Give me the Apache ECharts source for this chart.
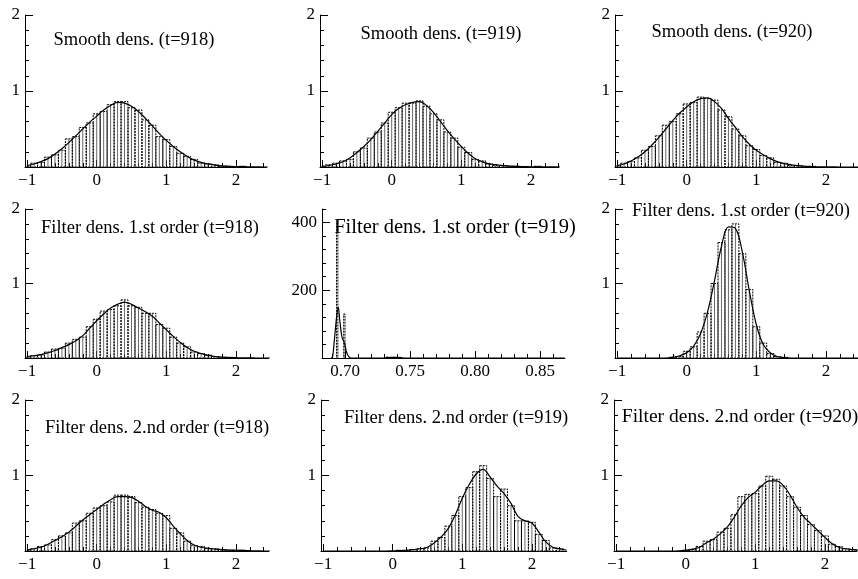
<!DOCTYPE html>
<html><head><meta charset="utf-8">
<script src="https://cdn.jsdelivr.net/npm/echarts@6/dist/echarts.min.js"></script>
<style>html,body{margin:0;padding:0;background:#fff}#c{width:858px;height:579px}</style>
</head><body><div id="c"></div>
<script>
// ---------- DATA ----------
const xs = [-1.0,-0.9,-0.8,-0.7,-0.6,-0.5,-0.4,-0.3,-0.2,-0.1,0.0,0.1,0.2,0.3,0.4,0.5,0.6,0.7,0.8,0.9,1.0,1.1,1.2,1.3,1.4,1.5,1.6,1.7,1.8,1.9,2.0,2.1,2.2,2.3,2.4,2.5];

const titles = [
  'Smooth dens. (t=918)', 'Smooth dens. (t=919)', 'Smooth dens. (t=920)',
  'Filter dens. 1.st order (t=918)', 'Filter dens. 1.st order (t=919)', 'Filter dens. 1.st order (t=920)',
  'Filter dens. 2.nd order (t=918)', 'Filter dens. 2.nd order (t=919)', 'Filter dens. 2.nd order (t=920)'
];

const curveSmooth918 = [0.02,0.04,0.07,0.11,0.17,0.24,0.32,0.41,0.50,0.59,0.67,0.75,0.81,0.85,0.84,0.80,0.73,0.64,0.54,0.44,0.35,0.27,0.20,0.14,0.09,0.06,0.04,0.025,0.015,0.01,0.006,0.004,0.002,0.001,0.0,0.0];
const barsSmooth918  = [0.01,0.05,0.06,0.13,0.16,0.22,0.37,0.40,0.52,0.58,0.70,0.73,0.82,0.86,0.86,0.78,0.75,0.62,0.55,0.40,0.36,0.27,0.18,0.14,0.10,0.05,0.04,0.03,0.01,0.01,0.0,0.01,0.0,0.0,0.0,0.0];

const curveSmooth919 = [0.01,0.02,0.04,0.07,0.12,0.19,0.27,0.36,0.47,0.58,0.69,0.77,0.82,0.85,0.86,0.81,0.72,0.60,0.48,0.37,0.27,0.18,0.11,0.07,0.04,0.03,0.02,0.012,0.008,0.005,0.003,0.002,0.001,0.001,0.0,0.0];
const barsSmooth919  = [0.01,0.03,0.05,0.08,0.10,0.20,0.25,0.38,0.46,0.58,0.72,0.78,0.84,0.84,0.87,0.80,0.70,0.62,0.46,0.38,0.26,0.19,0.10,0.08,0.04,0.02,0.02,0.01,0.01,0.0,0.0,0.01,0.0,0.0,0.0,0.0];

const curveSmooth920 = [0.02,0.04,0.08,0.13,0.20,0.29,0.39,0.50,0.61,0.71,0.79,0.86,0.90,0.91,0.86,0.77,0.64,0.52,0.40,0.30,0.22,0.16,0.11,0.07,0.045,0.03,0.02,0.01,0.006,0.003,0.002,0.001,0.0,0.0,0.0,0.0];
const barsSmooth920  = [0.02,0.05,0.07,0.12,0.22,0.27,0.41,0.55,0.60,0.70,0.83,0.85,0.92,0.90,0.88,0.75,0.66,0.50,0.41,0.28,0.23,0.15,0.12,0.06,0.05,0.02,0.02,0.01,0.01,0.0,0.0,0.0,0.0,0.0,0.0,0.0];

const curveFilt1_918 = [0.02,0.03,0.045,0.07,0.10,0.14,0.18,0.23,0.30,0.40,0.50,0.59,0.67,0.72,0.75,0.72,0.67,0.62,0.56,0.47,0.38,0.29,0.21,0.14,0.09,0.06,0.035,0.02,0.012,0.007,0.004,0.002,0.001,0.0,0.0,0.0];
const barsFilt1_918  = [0.02,0.03,0.04,0.08,0.12,0.13,0.20,0.25,0.28,0.42,0.52,0.63,0.65,0.70,0.78,0.70,0.68,0.60,0.60,0.45,0.40,0.28,0.20,0.15,0.08,0.06,0.04,0.02,0.01,0.01,0.0,0.0,0.0,0.0,0.0,0.0];

// panel with its own (narrow) x range
const curveFilt1_919X = [0.6895,0.6905,0.692,0.6935,0.6948,0.696,0.6975,0.6985,0.6995,0.701,0.7025,0.7045,0.720,0.730,0.735,0.740,0.745,0.760,0.869];
const curveFilt1_919Y = [0,5,60,120,150,110,65,53,45,20,6,0,0,0,2,2,0,0,0];
const barsFilt1_919X  = [0.6940,0.6995,0.7325,0.7375,0.7425];
const barsFilt1_919Y  = [405,130,3,2,2];

const curveFilt1_920 = [0,0,0,0,0,0,0,0,0.01,0.03,0.07,0.16,0.33,0.62,1.04,1.50,1.76,1.74,1.42,0.90,0.45,0.18,0.07,0.02,0.005,0,0,0,0,0,0,0,0,0,0,0];
const barsFilt1_920  = [0,0,0,0,0,0,0,0,0.01,0.02,0.09,0.15,0.35,0.60,1.00,1.55,1.72,1.80,1.40,0.92,0.42,0.20,0.06,0.02,0.01,0,0,0,0,0,0,0,0,0,0,0];

const curveFilt2_918 = [0.015,0.03,0.05,0.09,0.14,0.19,0.25,0.33,0.41,0.48,0.55,0.62,0.68,0.72,0.72,0.71,0.66,0.59,0.54,0.51,0.44,0.33,0.23,0.14,0.08,0.05,0.035,0.025,0.017,0.012,0.01,0.007,0.004,0.002,0.0,0.0];
const barsFilt2_918  = [0.01,0.03,0.06,0.08,0.15,0.20,0.24,0.37,0.40,0.50,0.57,0.60,0.65,0.74,0.74,0.72,0.64,0.58,0.55,0.50,0.47,0.30,0.24,0.13,0.07,0.06,0.03,0.03,0.02,0.01,0.01,0.01,0.0,0.0,0.0,0.0];

const curveFilt2_919 = [0,0,0,0,0,0,0,0,0,0,0.002,0.005,0.01,0.02,0.03,0.05,0.11,0.19,0.30,0.48,0.70,0.88,1.02,1.08,0.98,0.86,0.76,0.63,0.46,0.40,0.37,0.25,0.12,0.05,0.03,0.01];
const barsFilt2_919  = [0,0,0,0,0,0,0,0,0,0,0,0.01,0.01,0.02,0.03,0.04,0.13,0.18,0.33,0.47,0.72,0.84,1.05,1.13,0.96,0.72,0.82,0.60,0.40,0.40,0.38,0.22,0.14,0.04,0.03,0.0];

const curveFilt2_920 = [0,0,0,0,0,0,0,0,0,0.003,0.01,0.025,0.05,0.11,0.16,0.23,0.32,0.45,0.60,0.71,0.78,0.87,0.93,0.93,0.87,0.74,0.58,0.45,0.36,0.27,0.18,0.10,0.05,0.03,0.02,0.01];
const barsFilt2_920  = [0,0,0,0,0,0,0,0,0,0,0.01,0.02,0.06,0.13,0.15,0.25,0.30,0.48,0.72,0.75,0.76,0.86,0.99,0.95,0.86,0.72,0.58,0.47,0.35,0.27,0.20,0.09,0.06,0.03,0.02,0.0];

// tick values
const xMajor = [-1,0,1,2];
const xMinor = [-0.8,-0.6,-0.4,-0.2,0.2,0.4,0.6,0.8,1.2,1.4,1.6,1.8,2.2,2.4];
const yMajor = [1,2];
const yMinor = [0.2,0.4,0.6,0.8,1.2,1.4,1.6,1.8];
const p5XMajor = [0.70,0.75,0.80,0.85];
const p5XMinor = [0.69,0.71,0.72,0.73,0.74,0.76,0.77,0.78,0.79,0.81,0.82,0.83,0.84,0.86];
const p5YMajor = [200,400];
const p5YMinor = [40,80,120,160,240,280,320,360,440];

// ---------- LAYOUT (styles) ----------
const PX = 69.6;
const rowGeom = [{top:15,height:152},{top:209,height:149},{top:400,height:151}];
const colLeft = [[25,320,615],[25,322,615],[25,321,614]];
const xMaxes = [[2.44,2.40,2.46],[2.47,null,2.46],[2.47,2.50,2.46]];
const titlePos = [
  {x:134,y:40,s:18.5},{x:441,y:34,s:18.5},{x:732,y:32,s:18.5},
  {x:150,y:228,s:18.5},{x:455,y:228,s:20.5},{x:741,y:211,s:18.5},
  {x:157,y:428,s:18.5},{x:456,y:418,s:18.5},{x:740,y:417,s:19.5}
];

const panels = [
  {cx:xs, cy:curveSmooth918, bx:xs, by:barsSmooth918},
  {cx:xs, cy:curveSmooth919, bx:xs, by:barsSmooth919},
  {cx:xs, cy:curveSmooth920, bx:xs, by:barsSmooth920},
  {cx:xs, cy:curveFilt1_918, bx:xs, by:barsFilt1_918},
  {cx:curveFilt1_919X, cy:curveFilt1_919Y, bx:barsFilt1_919X, by:barsFilt1_919Y, special:true},
  {cx:xs, cy:curveFilt1_920, bx:xs, by:barsFilt1_920},
  {cx:xs, cy:curveFilt2_918, bx:xs, by:barsFilt2_918},
  {cx:xs, cy:curveFilt2_919, bx:xs, by:barsFilt2_919},
  {cx:xs, cy:curveFilt2_920, bx:xs, by:barsFilt2_920}
];

const FONT = '"Liberation Serif","Times New Roman",serif';
const grids = [], xAxes = [], yAxes = [], series = [], graphics = [];

function fmt(v){ const s = String(v); return s.replace('-', '\u2212'); }
function fmt2(v){ return v.toFixed(2); }

function barRender(binW, centerLine){
  return function(params, api){
    const x = api.value(0), h = api.value(1);
    if (!(h > 0)) return null;
    const p0 = api.coord([x - binW/2, 0]);
    const p1 = api.coord([x + binW/2, h]);
    const pc = api.coord([x, h]);
    const children = [{
      type:'rect',
      shape:{x:p0[0], y:p1[1], width:p1[0]-p0[0], height:p0[1]-p1[1]},
      style:{fill:'transparent', stroke:'#000', lineWidth:1, lineDash:[2,1]}
    }];
    if (centerLine) children.push({
      type:'line', shape:{x1:pc[0], y1:p0[1], x2:pc[0], y2:pc[1]},
      style:{stroke:'#444', lineWidth:0.8}
    });
    return {type:'group', children};
  };
}

panels.forEach((p, i) => {
  const r = Math.floor(i/3), c = i % 3;
  const g = rowGeom[r];
  let xmin, xmax, ymax, scale, xMa, xMi, yMa, yMi, lf;
  if (p.special) {
    xmin = 0.6823; xmax = 0.8692; ymax = 440; scale = 1300;
    xMa = p5XMajor; xMi = p5XMinor; yMa = p5YMajor; yMi = p5YMinor; lf = fmt2;
  } else {
    xmin = -1.03; xmax = xMaxes[r][c]; ymax = 2; scale = PX;
    xMa = xMajor; xMi = xMinor; yMa = yMajor; yMi = yMinor; lf = fmt;
  }
  const left = colLeft[r][c];
  grids.push({left:left, top:g.top, width:(xmax-xmin)*scale, height:g.height, containLabel:false});
  const base = {type:'value', gridIndex:i, min:xmin, max:xmax, position:'bottom', offset:0, splitLine:{show:false}};
  xAxes.push(Object.assign({}, base, {
    axisLine:{show:true, onZero:false, lineStyle:{color:'#000', width:1}},
    axisTick:{show:true, inside:true, length:7, customValues:xMa, lineStyle:{color:'#000', width:1}},
    axisLabel:{show:true, customValues:xMa, margin:5, formatter:lf, color:'#000', fontSize:17, fontFamily:FONT}
  }));
  xAxes.push(Object.assign({}, base, {
    axisLine:{show:false, onZero:false},
    axisTick:{show:true, inside:true, length:4, customValues:xMi, lineStyle:{color:'#000', width:1}},
    axisLabel:{show:false}
  }));
  const ybase = {type:'value', gridIndex:i, min:0, max:ymax, position:'left', offset:0, splitLine:{show:false}};
  yAxes.push(Object.assign({}, ybase, {
    axisLine:{show:true, onZero:false, lineStyle:{color:'#000', width:1}},
    axisTick:{show:true, inside:true, length:8, customValues:yMa, lineStyle:{color:'#000', width:1}},
    axisLabel:{show:true, customValues:yMa, margin:5, color:'#000', fontSize:17, fontFamily:FONT}
  }));
  yAxes.push(Object.assign({}, ybase, {
    axisLine:{show:false, onZero:false},
    axisTick:{show:true, inside:true, length:4, customValues:yMi, lineStyle:{color:'#000', width:1}},
    axisLabel:{show:false}
  }));
  series.push({
    type:'custom', xAxisIndex:2*i, yAxisIndex:2*i, clip:true, silent:true,
    renderItem: barRender(p.special ? 0.001 : 0.1, !p.special),
    data: p.bx.map((x, j) => [x, p.by[j]])
  });
  series.push({
    type:'line', xAxisIndex:2*i, yAxisIndex:2*i, clip:true, silent:true,
    smooth:0.35, symbol:'none', z:5,
    lineStyle:{color:'#000', width:1.2},
    data: p.cx.map((x, j) => [x, p.cy[j]])
  });
  const t = titlePos[i];
  graphics.push({
    type:'text', x:t.x, y:t.y, z:100,
    style:{text:titles[i], font:t.s + 'px ' + FONT, fill:'#000', align:'center', verticalAlign:'middle'}
  });
});

const chart = echarts.init(document.getElementById('c'), null, {renderer:'canvas'});
chart.setOption({
  animation:false,
  backgroundColor:'#fff',
  grid:grids, xAxis:xAxes, yAxis:yAxes, series:series, graphic:graphics
});
</script></body></html>
